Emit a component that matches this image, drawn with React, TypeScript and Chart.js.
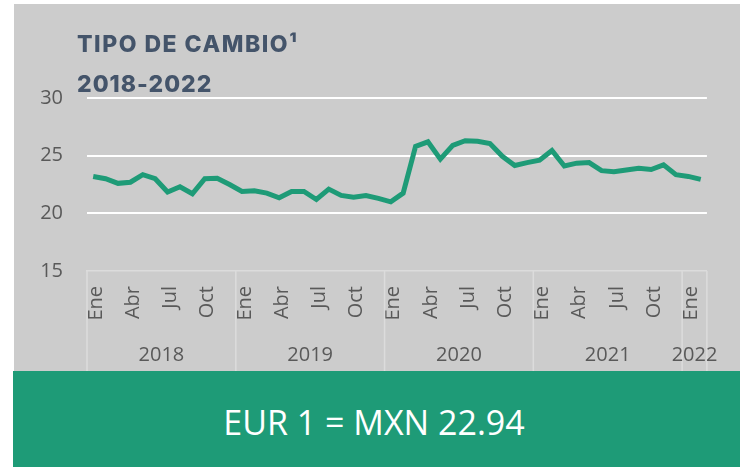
import React, { useEffect, useRef } from "react";
import { Chart, registerables } from "chart.js";
Chart.register(...registerables);

const monthNames = ["Ene", "Feb", "Mar", "Abr", "May", "Jun", "Jul", "Ago", "Sep", "Oct", "Nov", "Dic"];
const years = ["2018", "2019", "2020", "2021", "2022"];
const monthsPerYear = [12, 12, 12, 12, 2];
const rates = [
  23.2, 23.0, 22.6, 22.7, 23.35, 23.0, 21.85, 22.3, 21.7, 23.0, 23.05, 22.5,
  21.9, 21.95, 21.75, 21.35, 21.9, 21.9, 21.2, 22.1, 21.55, 21.4, 21.55, 21.3,
  21.0, 21.75, 25.8, 26.2, 24.7, 25.9, 26.3, 26.25, 26.05, 24.95, 24.15, 24.4,
  24.6, 25.45, 24.1, 24.35, 24.4, 23.7, 23.6, 23.75, 23.9, 23.8, 24.2, 23.35,
  23.2, 22.94,
];
const yTicks = [15, 20, 25, 30];
const titleLine1 = "TIPO DE CAMBIO¹";
const titleLine2 = "2018-2022";
const bannerText = "EUR 1 = MXN 22.94";

const labels: string[] = [];
years.forEach((y, yi) => {
  for (let m = 0; m < monthsPerYear[yi]; m++) labels.push(monthNames[m]);
});

const TICK_COLOR = "#595959";
const FONT = "'Open Sans', sans-serif";

const yearPlugin = {
  id: "yearGroups",
  afterDraw(chart: any) {
    const x = chart.scales.x;
    const area = chart.chartArea;
    const ctx = chart.ctx;
    const N = labels.length;
    ctx.save();
    ctx.strokeStyle = "#dcdcdc";
    ctx.lineWidth = 1.5;
    ctx.fillStyle = TICK_COLOR;
    ctx.font = `20px ${FONT}`;
    ctx.textAlign = "center";
    ctx.textBaseline = "middle";
    let s = 0;
    years.forEach((y, yi) => {
      const e = s + monthsPerYear[yi] - 1;
      const left = s === 0 ? area.left : (x.getPixelForValue(s - 1) + x.getPixelForValue(s)) / 2;
      const right = e === N - 1 ? area.right : (x.getPixelForValue(e) + x.getPixelForValue(e + 1)) / 2;
      ctx.beginPath();
      ctx.moveTo(left, area.bottom);
      ctx.lineTo(left, chart.height);
      ctx.stroke();
      if (e === N - 1) {
        ctx.beginPath();
        ctx.moveTo(right, area.bottom);
        ctx.lineTo(right, chart.height);
        ctx.stroke();
      }
      ctx.fillText(y, (left + right) / 2, area.bottom + 84);
      s = e + 1;
    });
    ctx.restore();
  },
};

export default function App() {
  const ref = useRef<HTMLCanvasElement>(null);
  useEffect(() => {
    if (!ref.current) return;
    const chart = new Chart(ref.current, {
      type: "line",
      data: {
        labels,
        datasets: [
          {
            data: rates,
            borderColor: "#1e9b77",
            borderWidth: 5,
            pointRadius: 0,
            tension: 0,
            fill: false,
          },
        ],
      },
      options: {
        animation: false,
        responsive: false,
        layout: { padding: { top: 94, right: 28, left: 0, bottom: 0 } },
        plugins: { legend: { display: false }, tooltip: { enabled: false }, title: { display: false } },
        scales: {
          x: {
            offset: true,
            grid: { display: false, drawTicks: false },
            border: { display: true, color: "#dcdcdc", width: 1.5 },
            ticks: {
              autoSkip: false,
              minRotation: 90,
              maxRotation: 90,
              padding: 15,
              labelOffset: 3,
              color: TICK_COLOR,
              font: { family: FONT, size: 20 },
              callback: (_v: any, i: number) => (i % 3 === 0 ? labels[i] : ""),
            },
            afterFit: (scale: any) => {
              scale.height = 101;
            },
          },
          y: {
            min: yTicks[0],
            max: yTicks[yTicks.length - 1],
            afterBuildTicks: (scale: any) => {
              scale.ticks = yTicks.map((v) => ({ value: v }));
            },
            grid: {
              drawTicks: false,
              lineWidth: 2,
              color: (c: any) => (c.tick && c.tick.value === yTicks[0] ? "rgba(0,0,0,0)" : "#ffffff"),
            },
            border: { display: false },
            ticks: {
              padding: 24,
              color: TICK_COLOR,
              font: { family: FONT, size: 20 },
            },
            afterFit: (scale: any) => {
              scale.width = 73;
            },
          },
        },
      },
      plugins: [yearPlugin],
    });
    return () => chart.destroy();
  }, []);

  const titleStyle: React.CSSProperties = {
    position: "absolute",
    left: 63,
    fontFamily: "Inter, sans-serif",
    fontWeight: 800,
    fontSize: 23,
    lineHeight: "23px",
    color: "#44546a",
    whiteSpace: "nowrap",
  };

  return (
    <div style={{ position: "fixed", left: 0, top: 0, width: 740, height: 467, background: "#ffffff", overflow: "hidden" }}>
      <div style={{ position: "absolute", left: 14, top: 4, width: 726, height: 368, background: "#cccccc" }}>
        <canvas ref={ref} width={726} height={368} style={{ display: "block" }} />
        <div style={{ ...titleStyle, top: 29, letterSpacing: 1.5 }}>{titleLine1}</div>
        <div style={{ ...titleStyle, top: 69, letterSpacing: 1.0 }}>{titleLine2}</div>
      </div>
      <div style={{ position: "absolute", left: 13, top: 371, width: 727, height: 96, background: "#1e9b77" }}>
        <div
          style={{
            position: "absolute",
            left: 361,
            top: 34,
            transform: "translateX(-50%)",
            fontFamily: FONT,
            fontSize: 34,
            lineHeight: "34px",
            color: "#ffffff",
            whiteSpace: "nowrap",
          }}
        >
          {bannerText}
        </div>
      </div>
    </div>
  );
}
